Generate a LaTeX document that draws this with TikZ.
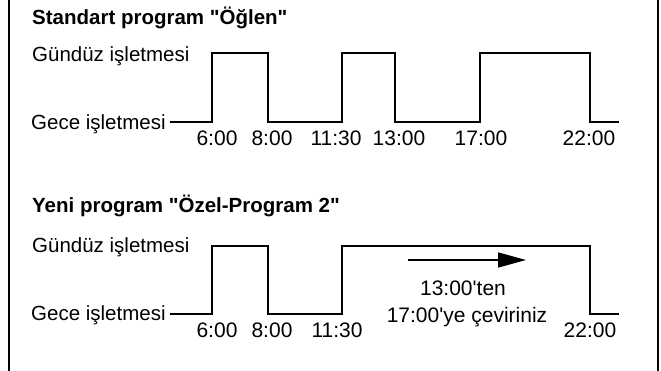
\documentclass[tikz,border=0pt]{standalone}
\usepackage{fontspec}
\setmainfont{Liberation Sans}[Ligatures=TeXOff]
\usetikzlibrary{arrows.meta}
\begin{document}
\begin{tikzpicture}[x=1pt,y=-1pt,
  lbl/.style={anchor=base west,inner sep=0pt,font=\fontsize{20.5}{24}\selectfont},
  ttl/.style={anchor=base west,inner sep=0pt,font=\fontsize{20.5}{24}\selectfont\bfseries},
  tm/.style={anchor=base,inner sep=0pt,font=\fontsize{21}{24}\selectfont},
  wave/.style={line width=1.6pt},
  frame/.style={line width=1.2pt}]
\useasboundingbox (0,0) rectangle (661,371);
% frame sides
\draw[frame] (9,0) -- (9,371);
\draw[frame] (658,0) -- (658,371);
% ---- top ----
\node[ttl] (t1) at (32,25) {Standart program "Öğlen"};
\node[lbl] (g1) at (32,62) {Gündüz işletmesi};
\node[lbl] (c1) at (31,130) {Gece işletmesi};
\draw[wave] (170,122) -- (212,122) -- (212,53) -- (268,53) -- (268,122)
  -- (342,122) -- (342,53) -- (395,53) -- (395,122) -- (480,122) -- (480,53)
  -- (590,53) -- (590,122) -- (619,122);
\node[tm] (a1) at (217,146) {6:00};
\node[tm] (a2) at (272,146) {8:00};
\node[tm] (a3) at (336,146) {11:30};
\node[tm] (a4) at (399,146) {13:00};
\node[tm] (a5) at (481,146) {17:00};
\node[tm] (a6) at (589,146) {22:00};
% ---- bottom ----
\node[ttl] (t2) at (32,213) {Yeni program "Özel-Program 2"};
\node[lbl] (g2) at (32,253) {Gündüz işletmesi};
\node[lbl] (c2) at (31,320) {Gece işletmesi};
\draw[wave] (170,314) -- (212,314) -- (212,246) -- (268,246) -- (268,314)
  -- (342,314) -- (342,246) -- (590,246) -- (590,314) -- (619,314);
\node[tm] (b1) at (217,337) {6:00};
\node[tm] (b2) at (272,337) {8:00};
\node[tm] (b3) at (337,337) {11:30};
\node[tm] (b6) at (590,337) {22:00};
\coordinate (arS) at (408,260);
\coordinate (arE) at (526,260);
\draw[line width=1.6pt,-{Triangle[length=28pt,width=15pt]}] (arS) -- (arE);
\node[tm] (n1) at (463,295) {13:00'ten};
\node[tm] (n2) at (467,322) {17:00'ye çeviriniz};
\end{tikzpicture}
\end{document}
